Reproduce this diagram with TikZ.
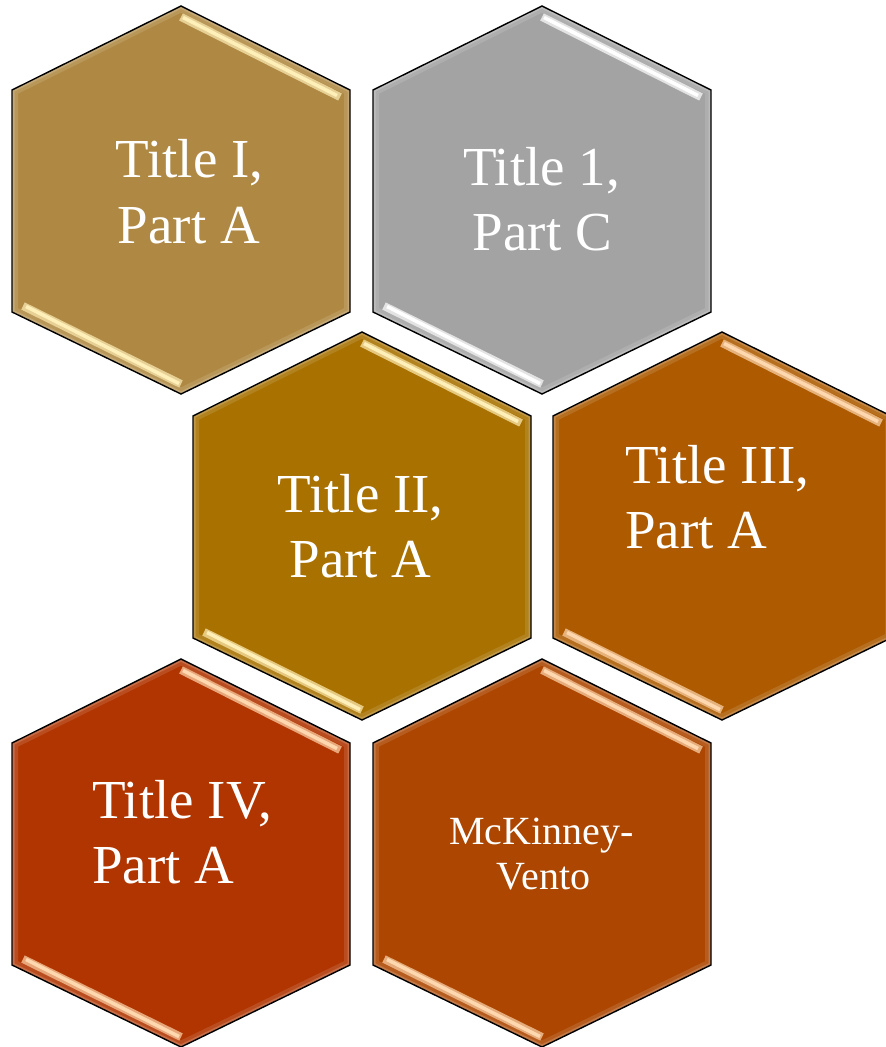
\documentclass[tikz,border=0pt]{standalone}
\usepackage{fontspec}
\setmainfont{Liberation Serif}
\definecolor{hexA}{HTML}{AF8943}
\definecolor{hexB}{HTML}{A3A3A3}
\definecolor{hexC}{HTML}{A87100}
\definecolor{hexD}{HTML}{AD5A00}
\definecolor{hexE}{HTML}{B13500}
\definecolor{hexF}{HTML}{AC4600}
\definecolor{hlGold}{HTML}{FFEFB8}
\definecolor{hlGray}{HTML}{FFFFFF}
\definecolor{hlCopper}{HTML}{FFD8B0}
\newcommand\hexpath[2]{(#1,#2-194) -- (#1+169,#2-110) -- (#1+169,#2+112) -- (#1,#2+194) -- (#1-169,#2+112) -- (#1-169,#2-110) -- cycle}
\newcommand\honeycell[4]{%
  \fill[#3] \hexpath{#1}{#2};
  \begin{scope}
    \clip \hexpath{#1}{#2};
    \draw[white,opacity=.12,line width=12pt] \hexpath{#1}{#2};
    \draw[white,opacity=.18,line width=5pt] \hexpath{#1}{#2};
  \end{scope}
  \draw[hlstrip=#4!70!#3] (#1,#2-183) -- (#1+159,#2-103);
  \draw[hlstrip=#4!70!#3] (#1-158,#2+106) -- (#1,#2+184);
  \draw[hlcore=#4] (#1+2,#2-182.5) -- (#1+156,#2-104.5);
  \draw[hlcore=#4] (#1-155,#2+106.5) -- (#1-2,#2+183.5);
  \draw[hexborder] \hexpath{#1}{#2};
}
\begin{document}
\begin{tikzpicture}[x=1pt,y=-1pt,
  hexborder/.style={draw=black,line width=1.4pt,line join=miter},
  hlstrip/.style={draw=#1,line width=8pt,line cap=butt},
  hlcore/.style={draw=#1,line width=3.5pt,line cap=butt},
  bigtxt/.style={text=white,inner sep=0pt,font=\fontsize{55}{66}\selectfont},
  smalltxt/.style={text=white,inner sep=0pt,font=\fontsize{40}{45}\selectfont}]
\useasboundingbox (0,0) rectangle (886,1047);
\clip (0,0) rectangle (886,1047);
\honeycell{181}{200}{hexA}{hlGold}
\honeycell{542}{200}{hexB}{hlGray}
\honeycell{362}{526}{hexC}{hlGold}
\honeycell{722}{526}{hexD}{hlCopper}
\honeycell{181}{853}{hexE}{hlCopper}
\honeycell{542}{853}{hexF}{hlCopper}
% labels
\node[bigtxt,anchor=base] (t1a) at (189.5,177) {Title I,};
\node[bigtxt,anchor=base] (t1b) at (189,243) {Part A};
\node[bigtxt,anchor=base] (t2a) at (541.5,185) {Title 1,};
\node[bigtxt,anchor=base] (t2b) at (542.5,250) {Part C};
\node[bigtxt,anchor=base] (t3a) at (360.5,512) {Title II,};
\node[bigtxt,anchor=base] (t3b) at (360.5,577) {Part A};
\node[bigtxt,anchor=base west] (t4a) at (625,483) {Title III,};
\node[bigtxt,anchor=base west] (t4b) at (625,548) {Part A};
\node[bigtxt,anchor=base west] (t5a) at (92,818) {Title IV,};
\node[bigtxt,anchor=base west] (t5b) at (92,883) {Part A};
\node[smalltxt,anchor=base] (t6a) at (541.5,844) {McKinney-};
\node[smalltxt,anchor=base] (t6b) at (543.5,889) {Vento};
\end{tikzpicture}
\end{document}
